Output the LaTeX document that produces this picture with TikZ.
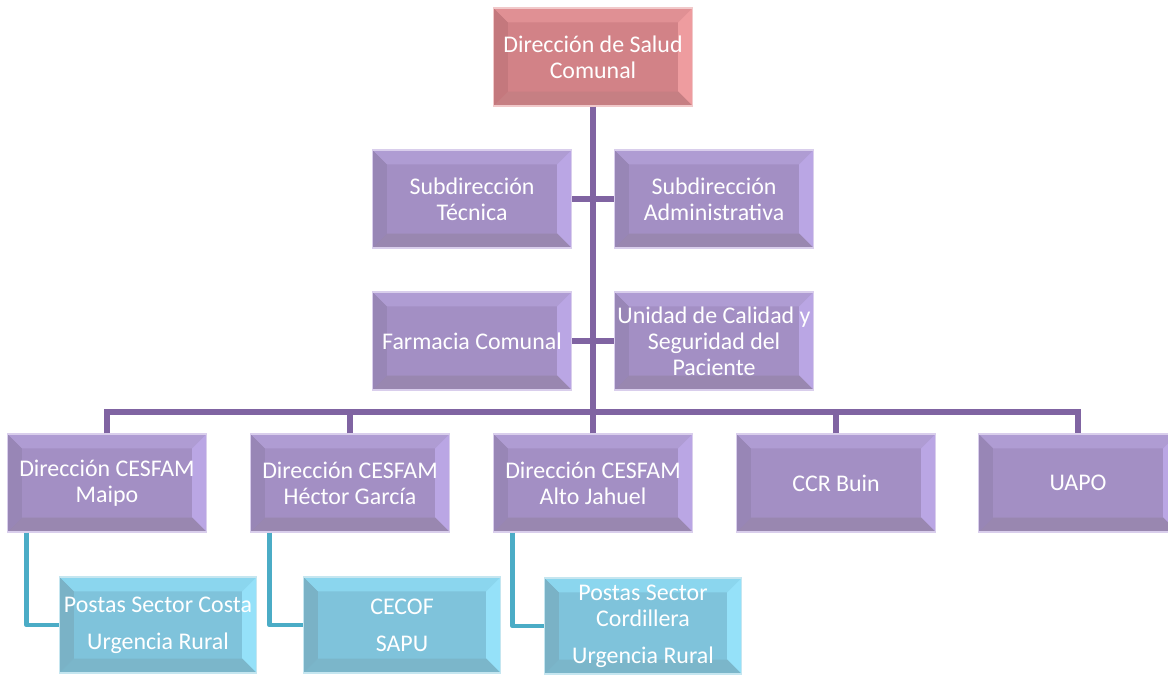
\documentclass[tikz,border=0pt]{standalone}
\usepackage{fontspec}
\setmainfont{Carlito}
\usetikzlibrary{positioning,calc}
% face / top / right / left / bottom / edge
\definecolor{purpC}{RGB}{163,143,196}
\definecolor{purpT}{RGB}{175,156,211}
\definecolor{purpR}{RGB}{186,166,228}
\definecolor{purpL}{RGB}{152,134,182}
\definecolor{purpB}{RGB}{153,135,176}
\definecolor{purpE}{RGB}{217,206,236}
\definecolor{pinkC}{RGB}{210,130,135}
\definecolor{pinkT}{RGB}{224,144,148}
\definecolor{pinkR}{RGB}{238,156,159}
\definecolor{pinkL}{RGB}{196,120,125}
\definecolor{pinkB}{RGB}{198,127,131}
\definecolor{pinkE}{RGB}{241,201,202}
\definecolor{blueC}{RGB}{127,195,219}
\definecolor{blueT}{RGB}{139,214,238}
\definecolor{blueR}{RGB}{149,225,249}
\definecolor{blueL}{RGB}{122,178,198}
\definecolor{blueB}{RGB}{123,182,202}
\definecolor{blueE}{RGB}{197,230,240}
\definecolor{linepurp}{RGB}{128,100,162}
\definecolor{lineblue}{RGB}{75,172,198}

\tikzset{
  bevel/.style={rectangle, draw=#1E, line width=0.8pt, fill=#1C, text=white,
    align=center, font=\fontsize{17}{18.4}\selectfont,
    minimum width=4.975cm, minimum height=2.45cm, inner sep=1pt,
    path picture={
      \path (path picture bounding box.north west) coordinate (@nw)
            (path picture bounding box.north east) coordinate (@ne)
            (path picture bounding box.south west) coordinate (@sw)
            (path picture bounding box.south east) coordinate (@se);
      \fill[#1T] (@nw) -- (@ne) -- ([shift={(-0.36cm,-0.36cm)}]@ne) -- ([shift={(0.36cm,-0.36cm)}]@nw) -- cycle;
      \fill[#1R] (@ne) -- (@se) -- ([shift={(-0.36cm,0.36cm)}]@se) -- ([shift={(-0.36cm,-0.36cm)}]@ne) -- cycle;
      \fill[#1B] (@se) -- (@sw) -- ([shift={(0.36cm,0.36cm)}]@sw) -- ([shift={(-0.36cm,0.36cm)}]@se) -- cycle;
      \fill[#1L] (@sw) -- (@nw) -- ([shift={(0.36cm,-0.36cm)}]@nw) -- ([shift={(0.36cm,0.36cm)}]@sw) -- cycle;
    }},
  childbox/.style={bevel=blue, minimum width=4.925cm, minimum height=2.4cm},
  trunk/.style={draw=linepurp, line width=4.3pt},
  branch/.style={draw=lineblue, line width=3.5pt, line join=round}
}

\begin{document}
\begin{tikzpicture}[x=0.025cm, y=-0.025cm]
    \useasboundingbox (0,0) rectangle (1168,675);

    % Top
    \node[bevel=pink] (dsc) at (593,57) {Dirección de Salud\\Comunal};

    % Staff units
    \node[bevel=purp] (stec) at (472,199) {Subdirección\\Técnica};
    \node[bevel=purp] (sadm) at (714,199) {Subdirección\\Administrativa};
    \node[bevel=purp] (farm) at (472,341) {Farmacia Comunal};
    \node[bevel=purp] (ucal) at (714,341) {Unidad de Calidad y\\Seguridad del\\Paciente};

    % Bottom row
    \node[bevel=purp] (maipo) at (107,483) {Dirección CESFAM\\Maipo};
    \node[bevel=purp] (hector) at (350,483) {Dirección CESFAM\\Héctor García};
    \node[bevel=purp] (alto) at (593,483) {Dirección CESFAM\\Alto Jahuel};
    \node[bevel=purp] (ccr) at (836,483) {CCR Buin};
    \node[bevel=purp] (uapo) at (1078,483) {UAPO};

    % Children
    \node[childbox] (costa) at (158,625) {Postas Sector Costa\\[8pt]Urgencia Rural};
    \node[childbox] (cecof) at (402,625) {CECOF\\[8pt]SAPU};
    \node[childbox] (cordillera) at (643,626) {Postas Sector\\Cordillera\\[8pt]Urgencia Rural};

    % Connectors
    \coordinate (bus) at (593,412);
    \path[trunk] (dsc.south) -- (bus);
    \path[trunk] (stec.east) -- (sadm.west);
    \path[trunk] (farm.east) -- (ucal.west);
    \path[trunk] (maipo.north) |- (bus) -| (uapo.north);
    \path[trunk] (hector.north) -- (hector.north |- bus);
    \path[trunk] (alto.north) -- (bus);
    \path[trunk] (ccr.north) -- (ccr.north |- bus);

    \path[branch] (maipo.south west) ++(20,0) |- (costa.west);
    \path[branch] (hector.south west) ++(20,0) |- (cecof.west);
    \path[branch] (alto.south west) ++(20,0) |- (cordillera.west);
\end{tikzpicture}
\end{document}
